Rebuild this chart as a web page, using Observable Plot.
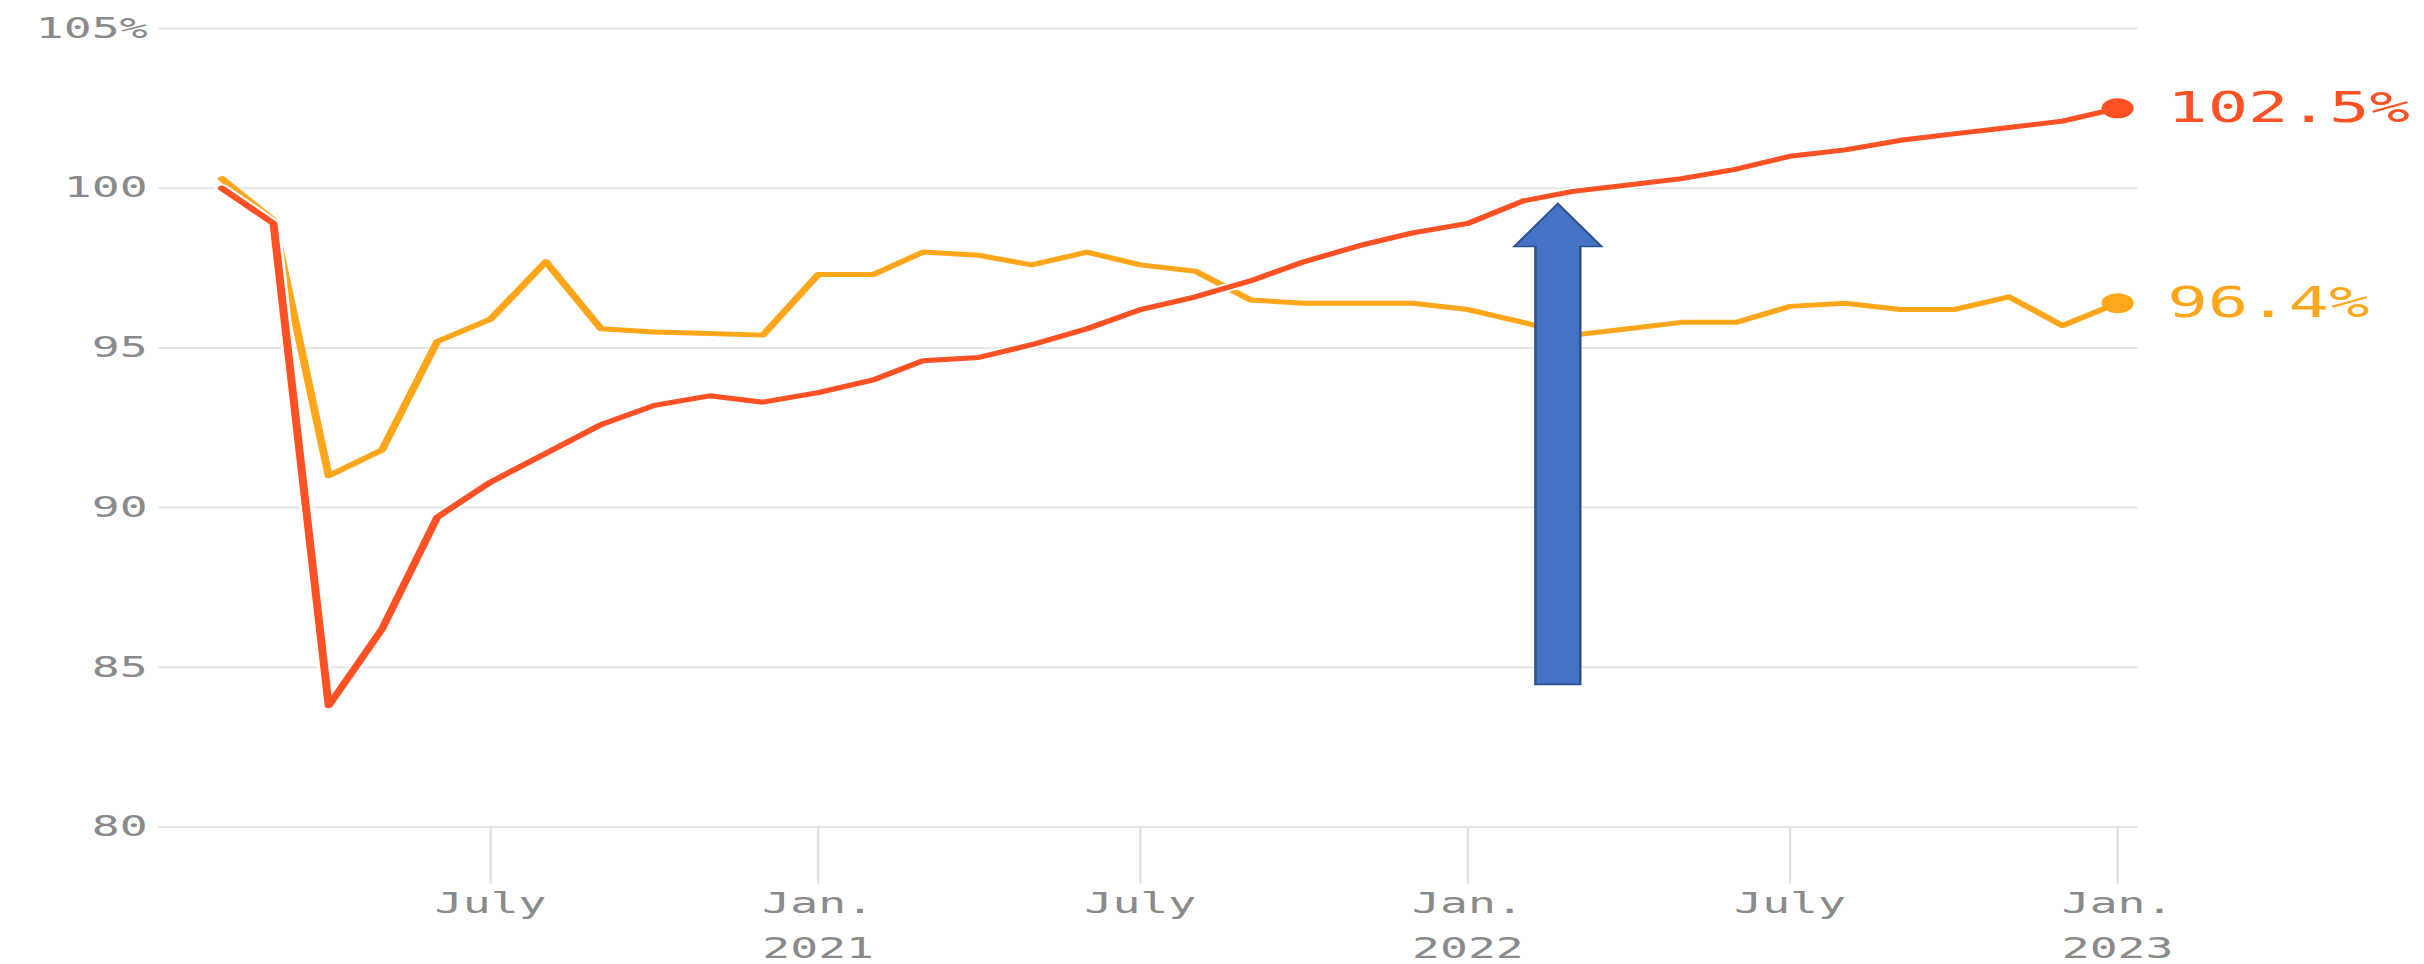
<!DOCTYPE html>
<html>
<head>
<meta charset="utf-8">
<script src="https://cdn.jsdelivr.net/npm/d3@7"></script>
<script src="https://cdn.jsdelivr.net/npm/@observablehq/plot@0.6"></script>
<style>
  html, body { margin: 0; padding: 0; background: #ffffff; }
  #chart { width: 2424px; height: 964px; overflow: hidden; }
  #chart svg { display: block; transform: scaleX(1.6); transform-origin: 0 0; }
</style>
</head>
<body>
<div id="chart"></div>
<script>
// ---- data ----
const months = [
  "2020-02","2020-03","2020-04","2020-05","2020-06","2020-07","2020-08","2020-09","2020-10","2020-11","2020-12",
  "2021-01","2021-02","2021-03","2021-04","2021-05","2021-06","2021-07","2021-08","2021-09","2021-10","2021-11","2021-12",
  "2022-01","2022-02","2022-03","2022-04","2022-05","2022-06","2022-07","2022-08","2022-09","2022-10","2022-11","2022-12",
  "2023-01"
];
const seriesRed = [
  100.0, 98.9, 83.8, 86.2, 89.7, 90.8, 91.7, 92.6, 93.2, 93.5, 93.3,
  93.6, 94.0, 94.6, 94.7, 95.1, 95.6, 96.2, 96.6, 97.1, 97.7, 98.2, 98.6,
  98.9, 99.6, 99.9, 100.1, 100.3, 100.6, 101.0, 101.2, 101.5, 101.7, 101.9, 102.1,
  102.5
];
const seriesOrange = [
  100.3, 99.0, 91.0, 91.8, 95.2, 95.9, 97.7, 95.6, 95.5, 95.45, 95.4,
  97.3, 97.3, 98.0, 97.9, 97.6, 98.0, 97.6, 97.4, 96.5, 96.4, 96.4, 96.4,
  96.2, 95.8, 95.4, 95.6, 95.8, 95.8, 96.3, 96.4, 96.2, 96.2, 96.6, 95.7,
  96.4
];
const endLabels = ["102.5%", "96.4%"];
const yTicks = [80, 85, 90, 95, 100, 105];
const yTickLabels = ["80", "85", "90", "95", "100", "105%"];
const xTicks = ["2020-07", "2021-01", "2021-07", "2022-01", "2022-07", "2023-01"];
const xTickLabels = ["July", "Jan.", "July", "Jan.", "July", "Jan."];
const yearTicks = ["2021-01", "2022-01", "2023-01"];
const yearLabels = ["2021", "2022", "2023"];
// block-arrow annotation
const arrowDate = "2022-02-21";
const arrowFrom = 84.45;
const arrowTo = 99.5;

// ---- build ----
const RED = "#ff5124";
const ORANGE = "#ffa61b";
const GRAY = "#8a8a8a";
const parseMonth = d3.utcParse("%Y-%m");
const parseDay = d3.utcParse("%Y-%m-%d");

const red = months.map((m, i) => ({date: parseMonth(m), value: seriesRed[i]}));
const orange = months.map((m, i) => ({date: parseMonth(m), value: seriesOrange[i]}));
const xTickDates = xTicks.map(parseMonth);
const yearTickDates = yearTicks.map(parseMonth);
const fmtX = d => xTickLabels[xTickDates.findIndex(t => +t === +d)];
const fmtYear = d => yearLabels[yearTickDates.findIndex(t => +t === +d)];
const fmtY = d => yTickLabels[yTicks.indexOf(d)];

const STRETCH = 1.6;
const W = 2424 / STRETCH;

function blockArrow(index, scales) {
  const x = scales.x(parseDay(arrowDate));
  const yt = scales.y(arrowTo);
  const yb = scales.y(arrowFrom);
  const hw = 27.2, sw = 14, hl = 42.8;
  const d = `M${x},${yt} L${x + hw},${yt + hl} L${x + sw},${yt + hl} L${x + sw},${yb} ` +
            `L${x - sw},${yb} L${x - sw},${yt + hl} L${x - hw},${yt + hl} Z`;
  const g = d3.create("svg:g");
  g.append("path").attr("d", d).attr("fill", "#4472c4").attr("stroke", "#2f528f")
    .attr("stroke-width", 1.6);
  return g.node();
}

const chart = Plot.plot({
  width: W,
  height: 964,
  marginLeft: 98.75,
  marginRight: W - 1336,
  marginTop: 28,
  marginBottom: 137.5,
  style: {fontFamily: "DejaVu Sans Mono", fontSize: "29px", background: "#ffffff", color: GRAY},
  x: {type: "utc", domain: [red[0].date, red[red.length - 1].date], insetLeft: 39.4, insetRight: 13},
  y: {domain: [80, 105]},
  marks: [
    Plot.gridY(yTicks, {stroke: "#e6e6e6", strokeOpacity: 1, strokeWidth: 2}),
    Plot.axisY(yTicks, {tickFormat: fmtY, tickSize: 0, tickPadding: 7, fill: GRAY, fontSize: 29, label: null}),
    Plot.axisX(xTickDates, {tickFormat: fmtX, tickSize: 57, tickPadding: 8, stroke: "#e2e2e2", strokeWidth: 1.5,
      fill: GRAY, fontSize: 29, label: null}),
    Plot.axisX(yearTickDates, {tickFormat: fmtYear, tickSize: 0, tickPadding: 110.5, fill: GRAY, fontSize: 29, label: null}),
    Plot.line(orange, {x: "date", y: "value", stroke: ORANGE, strokeWidth: 5}),
    Plot.line(red, {x: "date", y: "value", stroke: "#ffffff", strokeWidth: 8.5}),
    Plot.line(red, {x: "date", y: "value", stroke: RED, strokeWidth: 5}),
    Plot.dot([red[red.length - 1]], {x: "date", y: "value", r: 10, fill: RED}),
    Plot.dot([orange[orange.length - 1]], {x: "date", y: "value", r: 10, fill: ORANGE}),
    Plot.text([red[red.length - 1]], {x: "date", y: "value", text: () => endLabels[0], dx: 31,
      textAnchor: "start", fontSize: 42, fill: RED}),
    Plot.text([orange[orange.length - 1]], {x: "date", y: "value", text: () => endLabels[1], dx: 31,
      textAnchor: "start", fontSize: 42, fill: ORANGE}),
    blockArrow
  ]
});
document.getElementById("chart").appendChild(chart);
</script>
</body>
</html>
